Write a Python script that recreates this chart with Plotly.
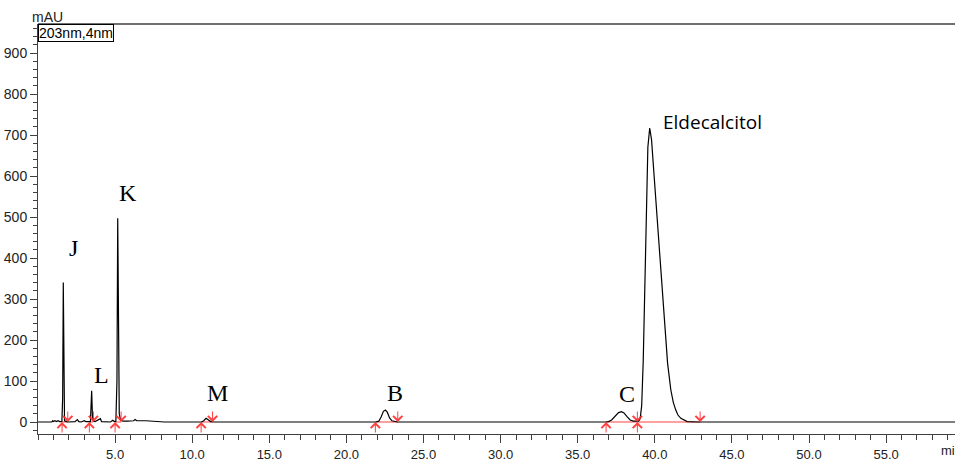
import plotly.graph_objects as go

# ---- data ----
time_min = [0.0, 0.9, 0.95, 1.0, 1.1, 1.2, 1.3, 1.4, 1.55, 1.6, 1.64, 1.68, 1.72, 1.85, 2.0,
            2.4, 2.55, 2.65, 2.8, 3.0, 3.1, 3.4, 3.44, 3.48, 3.53, 3.58, 3.7, 4.05, 4.12,
            4.4, 4.7, 4.85, 4.95, 5.05, 5.12, 5.17, 5.22, 5.27, 5.35, 5.5, 5.8, 6.2, 6.3,
            6.4, 7.0, 7.8, 8.2, 10.6, 10.75, 10.9, 11.05, 11.2, 11.4, 12.5, 13.0, 13.5,
            21.9, 22.1, 22.25, 22.4, 22.53, 22.65, 22.8, 22.95, 23.1, 23.3,
            36.8, 37.0, 37.2, 37.45, 37.65, 37.84, 38.0, 38.2, 38.4, 38.6, 38.85, 38.95,
            39.05, 39.15, 39.25, 39.35, 39.45, 39.55, 39.67, 39.79, 39.96, 40.18, 40.4,
            40.61, 40.83, 41.04, 41.2, 41.36, 41.5, 41.69, 42.1, 42.8, 59.6]
absorb_mau = [0, 0, 3, 1, 3, 1, 3, 1, 1, 60, 340, 40, 3, 1, 0,
              1, 6, 1, 0, 3, 1, 1, 30, 76, 15, 3, 1, 8, 1,
              1, 0, 4, 1, 2, 100, 497, 150, 20, 5, 2, 2, 3, 6,
              3, 3, 2, 0, 0, 3, 9, 4, 1, 0, 0, 1, 0,
              0, 2, 12, 26, 29, 24, 10, 3, 1, 0,
              0, 1, 5, 14, 23, 25, 22, 13, 5, 2, 1, 2,
              8, 40, 150, 330, 520, 670, 717, 688, 598, 476, 354,
              241, 143, 78, 48, 29, 17, 9, 1, 0, 0]

peak_names = ["J", "L", "K", "M", "B", "C", "Eldecalcitol"]
peak_label_time = [2.33, 4.09, 5.84, 11.61, 23.15, 38.2, 43.71]
peak_label_mau = [425, 115, 558, 70, 70, 68, 732]
peak_start = [1.56, 3.33, 5.0, 10.58, 21.88, 36.84, 38.87]
peak_end = [1.93, 3.59, 5.39, 11.32, 23.33, 38.87, 42.94]

x_tick_vals = [5, 10, 15, 20, 25, 30, 35, 40, 45, 50, 55]
x_tick_text = ["5.0", "10.0", "15.0", "20.0", "25.0", "30.0", "35.0", "40.0", "45.0", "50.0", "55.0"]
y_tick_vals = [0, 100, 200, 300, 400, 500, 600, 700, 800, 900]
y_tick_text = ["0", "100", "200", "300", "400", "500", "600", "700", "800", "900"]

RED = "rgba(255,45,45,0.9)"
AXIS = "#404040"

fig = go.Figure()

# integration baselines (red)
bx, by = [], []
for s, e in zip(peak_start, peak_end):
    bx += [s, e, None]
    by += [0, 0, None]
fig.add_trace(go.Scatter(x=bx, y=by, mode="lines", line=dict(color=RED, width=1),
                         hoverinfo="skip", showlegend=False))

# chromatogram trace
fig.add_trace(go.Scatter(x=time_min, y=absorb_mau, mode="lines",
                         line=dict(color="black", width=1.2), showlegend=False))

annotations = []
# peak labels
for name, tx, ty in zip(peak_names, peak_label_time, peak_label_mau):
    if name == "Eldecalcitol":
        fnt = dict(family="Open Sans, sans-serif", size=19, color="black")
    else:
        fnt = dict(family="Liberation Serif, Times New Roman, serif", size=24, color="black")
    annotations.append(dict(x=tx, y=ty, text=name, showarrow=False, font=fnt,
                            xanchor="center", yanchor="middle"))
# start / end markers
for s in peak_start:
    annotations.append(dict(x=s, y=0, ax=0, ay=12, showarrow=True, arrowhead=4,
                            arrowsize=1.8, arrowwidth=1, arrowcolor=RED, text=""))
for e in peak_end:
    annotations.append(dict(x=e, y=0, ax=0, ay=-12, showarrow=True, arrowhead=4,
                            arrowsize=1.8, arrowwidth=1, arrowcolor=RED, text=""))

PW, PH = 917, 410
annotations.append(dict(xref="paper", yref="paper", x=0, y=1, xanchor="left", yanchor="top",
                        text="203nm,4nm", showarrow=False, bordercolor="black", borderwidth=1,
                        borderpad=0, bgcolor="white",
                        font=dict(family="Liberation Sans, Arial, sans-serif", size=14, color="black")))
annotations.append(dict(xref="paper", yref="paper", x=(47 - 38) / PW, y=1 + 7 / PH,
                        xanchor="center", yanchor="middle", text="mAU", showarrow=False,
                        font=dict(family="Liberation Sans, Arial, sans-serif", size=14, color="#222")))
annotations.append(dict(xref="paper", yref="paper", x=(939 - 38) / PW, y=-16 / PH,
                        xanchor="left", yanchor="middle", text="min", showarrow=False,
                        font=dict(family="Liberation Sans, Arial, sans-serif", size=13, color="#222")))

fig.update_layout(
    width=955, height=463,
    margin=dict(l=38, r=0, t=24, b=29, autoexpand=False),
    paper_bgcolor="white", plot_bgcolor="white",
    showlegend=False,
    annotations=annotations,
    shapes=[dict(type="line", xref="paper", yref="paper", x0=0, x1=1, y0=1, y1=1,
                 line=dict(color=AXIS, width=1.3))],
    xaxis=dict(range=[0, PW / 15.42], showgrid=False, zeroline=False, automargin=False,
               showline=True, linecolor=AXIS, linewidth=1,
               tickmode="array", tickvals=x_tick_vals, ticktext=x_tick_text,
               ticks="outside", ticklen=8, tickcolor=AXIS,
               tickfont=dict(family="Liberation Sans, Arial, sans-serif", size=13, color="#222"),
               minor=dict(ticks="outside", ticklen=5, dtick=1, tick0=0, tickcolor=AXIS, showgrid=False)),
    yaxis=dict(range=[-12 / 0.41, 398 / 0.41], showgrid=False, zeroline=False, automargin=False,
               showline=True, linecolor=AXIS, linewidth=1,
               tickmode="array", tickvals=y_tick_vals, ticktext=y_tick_text,
               ticks="outside", ticklen=7, tickcolor=AXIS,
               tickfont=dict(family="Liberation Sans, Arial, sans-serif", size=14, color="#222"),
               minor=dict(ticks="outside", ticklen=4, dtick=20, tick0=0, tickcolor=AXIS, showgrid=False)),
)

fig.write_html("out.html", config={"displayModeBar": False},
               post_script="document.body.style.margin='0';document.body.style.overflow='hidden';")
